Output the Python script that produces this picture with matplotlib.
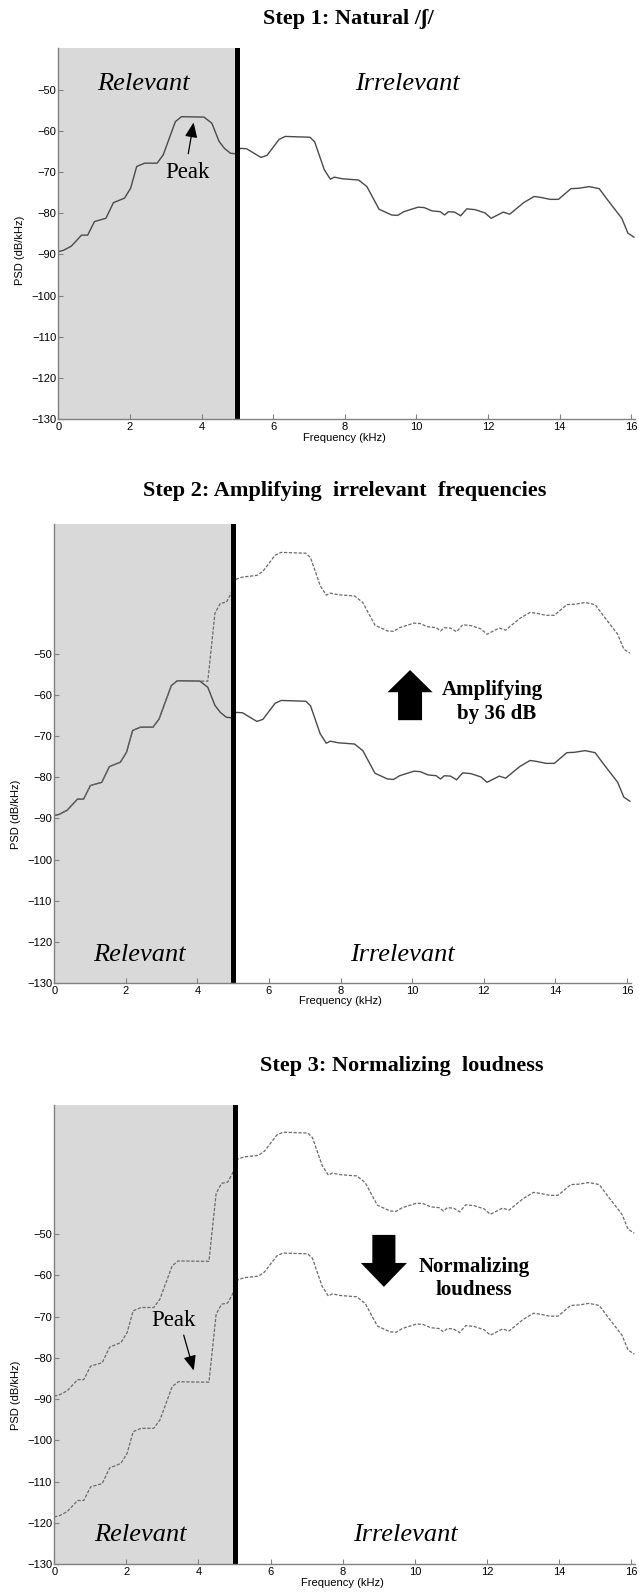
import numpy as np
import matplotlib
matplotlib.use('Agg')
import matplotlib.pyplot as plt
import matplotlib.transforms as mtransforms
from matplotlib.patches import FancyArrow

# natural /ʃ/ spectrum (kHz, dB/kHz)
freq = [0.0, 0.14, 0.36, 0.65, 0.82, 1.01, 1.33, 1.54, 1.85, 2.02, 2.19, 2.41,
        2.76, 2.93, 3.27, 3.44, 4.07, 4.29, 4.49, 4.64, 4.81, 4.94, 5.09, 5.26,
        5.66, 5.83, 6.17, 6.34, 7.03, 7.16, 7.43, 7.60, 7.71, 7.94, 8.39, 8.62,
        8.96, 9.31, 9.48, 9.65, 10.05, 10.22, 10.44, 10.67, 10.79, 10.90, 11.07,
        11.24, 11.41, 11.64, 11.92, 12.09, 12.43, 12.61, 13.00, 13.29, 13.46,
        13.74, 13.97, 14.32, 14.54, 14.83, 15.11, 15.34, 15.74, 15.91, 16.08]
psd_natural = [-89.3, -89.0, -88.0, -85.3, -85.3, -82.0, -81.2, -77.4, -76.3,
               -73.9, -68.6, -67.8, -67.8, -65.8, -57.7, -56.5, -56.6, -58.1,
               -62.5, -64.2, -65.4, -65.5, -64.2, -64.3, -66.4, -65.9, -62.0,
               -61.3, -61.5, -62.6, -69.4, -71.7, -71.2, -71.6, -71.9, -73.5,
               -79.0, -80.4, -80.5, -79.6, -78.5, -78.6, -79.4, -79.6, -80.4,
               -79.6, -79.7, -80.6, -78.9, -79.1, -79.9, -81.2, -79.7, -80.2,
               -77.4, -75.9, -76.1, -76.6, -76.6, -74.0, -73.9, -73.5, -74.0,
               -76.7, -81.2, -84.8, -85.8]
# gain applied per frequency in step 2 (0 in relevant band, 36 dB above ~5 kHz)
gain_db = [0, 0, 0, 0, 0, 0, 0, 0, 0, 0, 0, 0, 0, 0, 0, 0, 0, 1.5,
           22.4, 26.5, 28.0, 30.2, 32.4, 33.0, 35.5] + [36] * 42
# overall level change in step 3
loudness_shift_db = -29.3

freq = np.array(freq)
psd_natural = np.array(psd_natural)
psd_amplified = psd_natural + np.array(gain_db)
psd_normalized = psd_amplified + loudness_shift_db

W, H = 639, 1593
fig = plt.figure(figsize=(W / 100, H / 100), dpi=100)

SERIF = ['Liberation Serif', 'DejaVu Serif']
SANS = ['Liberation Sans', 'DejaVu Sans']
LINE_C = '#4a4a4a'
DASH_C = '#6a6a6a'
SPINE_C = '#808080'


def make_axes(left, top, bottom, px_per_khz, ytop):
    width = 16.1 * px_per_khz
    ax = fig.add_axes([left / W, 1 - bottom / H, width / W, (bottom - top) / H])
    ax.set_xlim(0, 16.1)
    ax.set_ylim(-130, ytop)
    ax.axvspan(0, 5, color='#d9d9d9', lw=0, zorder=0)
    ax.axvline(5, color='black', lw=3.6, zorder=4)
    for s in ['top', 'right']:
        ax.spines[s].set_visible(False)
    for s in ['left', 'bottom']:
        ax.spines[s].set_color(SPINE_C)
        ax.spines[s].set_linewidth(1.0)
        ax.spines[s].set_zorder(5)
    ax.set_xticks(np.arange(0, 17, 2))
    ax.set_yticks(np.arange(-130, -49, 10))
    ax.tick_params(direction='in', length=3.5, width=0.8, color=SPINE_C,
                   labelsize=8, labelcolor='black')
    ax.tick_params(axis='x', pad=2.5)
    ax.tick_params(axis='y', pad=1.5)
    for lab in ax.get_xticklabels() + ax.get_yticklabels():
        lab.set_family(SANS)
    ax.set_xlabel('Frequency (kHz)', fontsize=8, family=SANS)
    ax.set_ylabel('PSD (dB/kHz)', fontsize=8, family=SANS)
    xl = mtransforms.blended_transform_factory(ax.transData, ax.transAxes) + \
        mtransforms.ScaledTranslation(0, -13.5 / 100, fig.dpi_scale_trans)
    ax.xaxis.set_label_coords(8, 0, transform=xl)
    yl = mtransforms.blended_transform_factory(ax.transAxes, ax.transData) + \
        mtransforms.ScaledTranslation(-33 / 100, 0, fig.dpi_scale_trans)
    ax.yaxis.set_label_coords(0, -89, transform=yl)
    return ax


def band_labels(ax, y):
    ax.text(2.39, y, 'Relevant', ha='center', va='baseline', fontsize=19,
            style='italic', family=SERIF, zorder=6)
    ax.text(9.74, y, 'Irrelevant', ha='center', va='baseline', fontsize=19,
            style='italic', family=SERIF, zorder=6)


def peak_note(ax, text_xy, tail, tip):
    ax.text(text_xy[0], text_xy[1], 'Peak', ha='center', va='baseline',
            fontsize=16.5, family=SERIF, zorder=6)
    ax.annotate('', xy=tip, xytext=tail,
                arrowprops=dict(arrowstyle='-|>,head_length=0.6,head_width=0.25',
                                color='black', lw=0.9, mutation_scale=15,
                                shrinkA=0, shrinkB=0), zorder=6)


def title(text, x, y):
    fig.text(x / W, 1 - y / H, text, ha='center', va='baseline', fontsize=16,
             fontweight='bold', family=SERIF)


dash = (0, (2.6, 1.3))

# Step 1
ax1 = make_axes(58.3, 48, 419, 35.8, -39.8)
ax1.plot(freq, psd_natural, color=LINE_C, lw=1.0, zorder=3)
band_labels(ax1, -50.0)
peak_note(ax1, (3.61, -71.3), (3.63, -65.5), (3.78, -57.9))
title('Step 1: Natural /ʃ/', 348, 24)

# Step 2
ax2 = make_axes(54.2, 524, 983, 35.8, -18.4)
ax2.plot(freq, psd_natural, color=LINE_C, lw=1.0, zorder=3)
ax2.plot(freq, psd_amplified, color=DASH_C, lw=0.9, ls=dash, zorder=3)
band_labels(ax2, -124.6)
ax2.add_patch(FancyArrow(9.94, -66.1, 0, 12.2, width=0.67, head_width=1.26,
                         head_length=5.4, length_includes_head=True,
                         color='black', lw=0, zorder=6))
ax2.text(12.23, -60.0, 'Amplifying', ha='center', va='baseline', fontsize=15,
         fontweight='bold', family=SERIF)
ax2.text(12.37, -65.8, 'by 36 dB', ha='center', va='baseline', fontsize=15,
         fontweight='bold', family=SERIF)
title('Step 2: Amplifying  irrelevant  frequencies', 345, 496)

# Step 3
ax3 = make_axes(54.2, 1105, 1564, 36.07, -18.7)
ax3.plot(freq, psd_amplified, color=DASH_C, lw=0.9, ls=dash, zorder=3)
ax3.plot(freq, psd_normalized, color=DASH_C, lw=0.9, ls=dash, zorder=3)
band_labels(ax3, -124.4)
peak_note(ax3, (3.30, -72.3), (3.59, -74.5), (3.87, -83.1))
ax3.add_patch(FancyArrow(9.14, -50.2, 0, -12.6, width=0.64, head_width=1.28,
                         head_length=5.8, length_includes_head=True,
                         color='black', lw=0, zorder=6))
ax3.text(11.64, -59.2, 'Normalizing', ha='center', va='baseline', fontsize=15,
         fontweight='bold', family=SERIF)
ax3.text(11.64, -64.8, 'loudness', ha='center', va='baseline', fontsize=15,
         fontweight='bold', family=SERIF)
title('Step 3: Normalizing  loudness', 402, 1071)

fig.savefig('out.png', dpi=100)
